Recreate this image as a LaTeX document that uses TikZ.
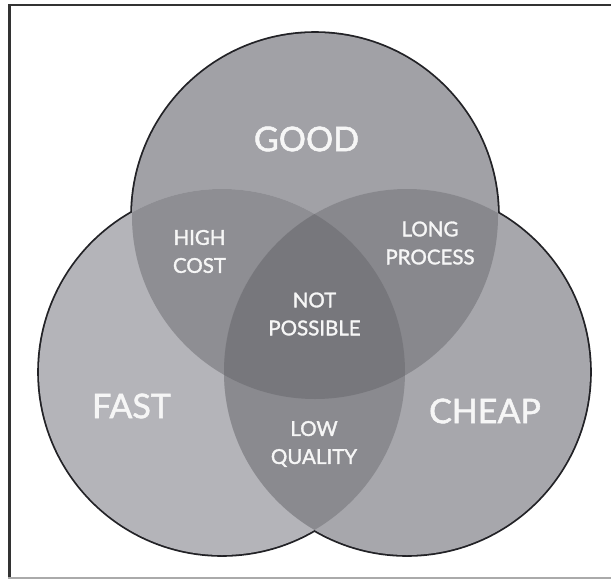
\documentclass[tikz,border=0pt]{standalone}
\usepackage{fontspec}
\setmainfont{Lato}
\newfontfamily\labelfont[FakeBold=1.6]{Lato}
\definecolor{rimcol}{HTML}{222226}
\definecolor{fastcol}{HTML}{B4B4B9}
\definecolor{goodcol}{HTML}{A1A1A6}
\definecolor{cheapcol}{HTML}{A7A7AC}
\definecolor{costcol}{HTML}{8E8E93}
\definecolor{processcol}{HTML}{88888D}
\definecolor{qualitycol}{HTML}{8A8A8F}
\definecolor{nopecol}{HTML}{77777C}
\definecolor{framecol}{HTML}{333333}
\definecolor{basecol}{HTML}{AAAAAA}
\definecolor{inkcol}{HTML}{F6F6F6}
\begin{document}
\begin{tikzpicture}[x=1pt,y=-1pt,
  region/.style={text=inkcol,font=\labelfont\fontsize{20.5}{28}\selectfont,align=center,inner sep=0pt},
  setname/.style={text=inkcol,font=\labelfont\fontsize{34}{34}\selectfont,inner sep=0pt},
  rim/.style={draw=rimcol,line width=3.6pt}]
\useasboundingbox (0,0) rectangle (611,579);
\fill[white] (0,0) rectangle (611,579);

% frame
\draw[framecol,line width=3pt] (9.5,4) -- (9.5,579);
\draw[framecol,line width=2pt] (8,5) -- (611,5);
\draw[basecol,line width=2pt] (8,578) -- (611,578);

% circle centres
\coordinate (g) at (315,216);
\coordinate (l) at (222,372);
\coordinate (r) at (407,372);
\def\rad{183pt}

% outer rims (inner halves get covered by the fills)
\path[rim] (g) circle[radius=\rad];
\path[rim] (l) circle[radius=\rad];
\path[rim] (r) circle[radius=\rad];

% single sets
\fill[goodcol] (g) circle[radius=\rad];
\fill[fastcol] (l) circle[radius=\rad];
\fill[cheapcol] (r) circle[radius=\rad];

% pairwise overlaps
\begin{scope}
  \clip (g) circle[radius=\rad];
  \fill[costcol] (l) circle[radius=\rad];
  \fill[processcol] (r) circle[radius=\rad];
\end{scope}
\begin{scope}
  \clip (l) circle[radius=\rad];
  \fill[qualitycol] (r) circle[radius=\rad];
  \clip (r) circle[radius=\rad];
  \fill[nopecol] (g) circle[radius=\rad];
\end{scope}

% labels
\node[setname] (good) at (306.5,139) {GOOD};
\node[setname] (fast) at (131.5,406) {FAST};
\node[setname] (cheap) at (485,411) {CHEAP};
\node[region] (cost) at (199.5,251.5) {HIGH\\COST};
\node[region] (process) at (430,243) {LONG\\PROCESS};
\node[region] (nope) at (314.5,314) {NOT\\POSSIBLE};
\node[region] (quality) at (314,444) {LOW\\QUALITY};
\end{tikzpicture}
\end{document}
